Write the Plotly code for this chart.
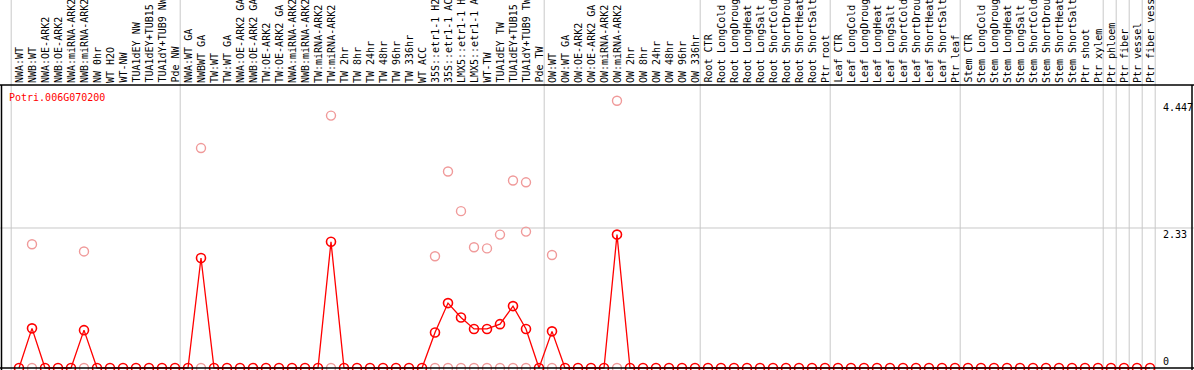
import plotly.graph_objects as go

gene_id = "Potri.006G070200"

categories = [
    "NWA:WT", "NWB:WT", "NWA:OE-ARK2", "NWB:OE-ARK2", "NWA:miRNA-ARK2", "NWB:miRNA-ARK2",
    "NW 0hr", "WT H2O", "WT-NW", "TUA1dEY NW", "TUA1dEY+TUB15 NW", "TUA1dY+TUB9 NW", "Pde NW",
    "NWA:WT GA", "NWBWT GA", "TW:WT", "TW:WT GA", "NWA:OE-ARK2 GA", "NWB:OE-ARK2 GA",
    "TW:OE-ARK2", "TW:OE-ARK2 GA", "NWA:miRNA-ARK2 GA", "NWB:miRNA-ARK2 GA", "TW:miRNA-ARK2",
    "TW:miRNA-ARK2 GA", "TW 2hr", "TW 8hr", "TW 24hr", "TW 48hr", "TW 96hr", "TW 336hr",
    "WT ACC", "35S::etr1-1 H2O", "35S::etr1-1 ACC", "LMX5::etr1-1 H2O", "LMX5::etr1-1 ACC",
    "WT-TW", "TUA1dEY TW", "TUA1dEY+TUB15 TW", "TUA1dY+TUB9 TW", "Pde TW",
    "OW:WT", "OW:WT GA", "OW:OE-ARK2", "OW:OE-ARK2 GA", "OW:miRNA-ARK2", "OW:miRNA-ARK2 GA",
    "OW 2hr", "OW 8hr", "OW 24hr", "OW 48hr", "OW 96hr", "OW 336hr",
    "Root CTR", "Root LongCold", "Root LongDrought", "Root LongHeat", "Root LongSalt",
    "Root ShortCold", "Root ShortDrought", "Root ShortHeat", "Root ShortSalt", "Ptr root",
    "Leaf CTR", "Leaf LongCold", "Leaf LongDrought", "Leaf LongHeat", "Leaf LongSalt",
    "Leaf ShortCold", "Leaf ShortDrought", "Leaf ShortHeat", "Leaf ShortSalt", "Ptr leaf",
    "Stem CTR", "Stem LongCold", "Stem LongDrought", "Stem LongHeat", "Stem LongSalt",
    "Stem ShortCold", "Stem ShortDrought", "Stem ShortHeat", "Stem ShortSalt", "Ptr shoot",
    "Ptr xylem", "Ptr phloem", "Ptr fiber", "Ptr vessel", "Ptr fiber vessel",
]

# sizes of the groups separated by grey vertical lines
group_sizes = [13, 28, 12, 10, 10, 11, 1, 1, 1, 1]

mean_values = [0.0] * len(categories)
mean_nonzero = {1: 0.66, 5: 0.63, 14: 1.83, 24: 2.10, 32: 0.59, 33: 1.08, 34: 0.84,
                35: 0.65, 36: 0.65, 37: 0.73, 38: 1.03, 39: 0.65, 41: 0.61, 46: 2.22}
for k, v in mean_nonzero.items():
    mean_values[k] = v

rep_index = [1, 1, 5, 5, 14, 14, 24, 24, 32, 32, 33, 33, 34, 34, 35, 35, 36, 36,
             37, 37, 38, 38, 39, 39, 39, 41, 41, 46, 46]
rep_values = [2.06, 0, 1.94, 0, 3.66, 0, 4.20, 0, 1.86, 0, 3.27, 0, 2.61, 0, 2.01, 0,
              1.99, 0, 2.22, 0, 3.12, 0, 3.09, 2.27, 0, 1.88, 0, 4.447, 0]

axis_ticks = [4.447, 2.33, 0]
axis_tick_labels = ["4.447", "2.33", "0"]

W, H = 1194, 370
X0_PX, STEP_PX = 19, 13
Y0_PX, PX_PER_UNIT = 368, 60.09
LABEL_BOTTOM_PX = 84
HEADER_LINE_PX = 85
FONT = "DejaVu Sans Mono"

xr = [(0 - X0_PX) / STEP_PX, (W - X0_PX) / STEP_PX]
yr = [(Y0_PX - H) / PX_PER_UNIT, Y0_PX / PX_PER_UNIT]

def py(px_from_top):
    return (H - px_from_top) / H

x_idx = list(range(len(categories)))

fig = go.Figure()
fig.add_trace(go.Scatter(
    x=x_idx, y=mean_values, mode="lines+markers",
    line=dict(color="#ff0000", width=1.3),
    marker=dict(symbol="circle-open", size=9, color="#ff0000", line=dict(width=1.6, color="#ff0000")),
    hoverinfo="skip", showlegend=False))
fig.add_trace(go.Scatter(
    x=rep_index, y=rep_values, mode="markers",
    marker=dict(symbol="circle-open", size=9, color="#f09a9a", line=dict(width=1.4, color="#f09a9a")),
    hoverinfo="skip", showlegend=False))

shapes = []
bounds = [-0.6]
acc = 0
for s in group_sizes:
    acc += s
    bounds.append(acc - 0.6)
for b in bounds:
    shapes.append(dict(type="line", xref="x", yref="paper", x0=b, x1=b, y0=0, y1=1,
                       line=dict(color="#c8c8c8", width=1), layer="below"))
shapes.append(dict(type="line", xref="paper", yref="y", x0=0, x1=1, y0=axis_ticks[1], y1=axis_ticks[1],
                   line=dict(color="#c8c8c8", width=1), layer="below"))
hy = py(HEADER_LINE_PX)
shapes.append(dict(type="line", xref="paper", yref="paper", x0=0, x1=1, y0=hy, y1=hy,
                   line=dict(color="black", width=1.5)))
shapes.append(dict(type="line", xref="paper", yref="paper", x0=1.5 / W, x1=1.5 / W, y0=0, y1=hy,
                   line=dict(color="black", width=1.5)))
shapes.append(dict(type="line", xref="paper", yref="paper", x0=(W - 2) / W, x1=(W - 2) / W, y0=0, y1=hy,
                   line=dict(color="black", width=1.5)))
shapes.append(dict(type="line", xref="paper", yref="y", x0=0, x1=1, y0=0, y1=0,
                   line=dict(color="black", width=1.5)))

annotations = []
for i, lab in enumerate(categories):
    annotations.append(dict(x=i, y=py(LABEL_BOTTOM_PX), xref="x", yref="paper", text=lab,
                            textangle=-90, showarrow=False, xanchor="center", yanchor="bottom",
                            font=dict(family=FONT, size=10, color="black"), borderpad=0))
annotations.append(dict(x=7 / W, y=py(97), xref="paper", yref="paper", text=gene_id, showarrow=False,
                        xanchor="left", yanchor="middle", font=dict(family=FONT, size=10, color="#ff0000")))
for v, t in zip(axis_ticks, axis_tick_labels):
    annotations.append(dict(x=1162 / W, y=v, xref="paper", yref="y", text=t, showarrow=False,
                            xanchor="left", yanchor="bottom" if v == 0 else "top", borderpad=0,
                            font=dict(family=FONT, size=10, color="black")))

fig.update_layout(
    width=W, height=H, autosize=False,
    margin=dict(l=0, r=0, t=0, b=0, pad=0),
    paper_bgcolor="white", plot_bgcolor="white",
    xaxis=dict(range=xr, visible=False, showgrid=False, zeroline=False),
    yaxis=dict(range=yr, visible=False, showgrid=False, zeroline=False),
    shapes=shapes, annotations=annotations, showlegend=False,
)

fig.write_html("out.html", config={"displayModeBar": False},
               post_script="document.body.style.margin='0px';document.body.style.overflow='hidden';")
